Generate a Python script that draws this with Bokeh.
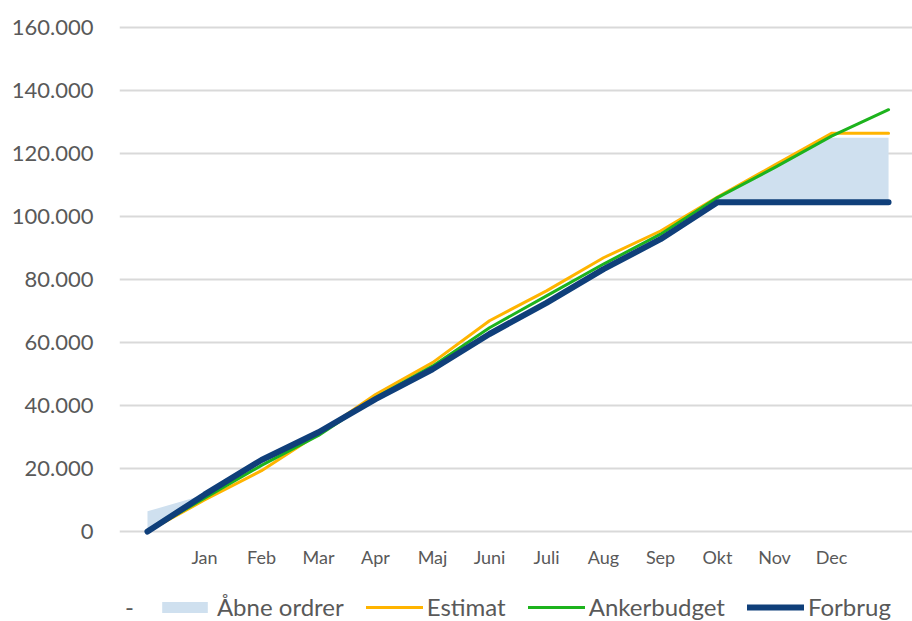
from bokeh.plotting import figure
from bokeh.embed import file_html
from bokeh.resources import INLINE
from bokeh.layouts import column
from bokeh.models import Range1d, FixedTicker, Legend, LegendItem
import numpy as np

# x positions: start point, Jan..Dec, end point
month_labels = ["", "Jan", "Feb", "Mar", "Apr", "Maj", "Juni", "Juli", "Aug", "Sep", "Okt", "Nov", "Dec", ""]
forbrug = [0, 11700, 22700, 31500, 42000, 51500, 62700, 72600, 83300, 92800, 104500, 104500, 104500, 104500]
estimat = [0, 10000, 19300, 31000, 43500, 53600, 66900, 76400, 86900, 95400, 106200, 116300, 126400, 126400]
ankerbudget = [0, 10600, 21000, 30500, 42500, 52500, 64700, 74800, 84900, 94400, 106000, 115500, 125500, 133900]
aabne_ordrer = [6400, 0, 0, 0, 0, 0, 0, 0, 0, 0, 1500, 11500, 20500, 20500]
y_ticks = [0, 20000, 40000, 60000, 80000, 100000, 120000, 140000, 160000]

x = list(range(len(month_labels)))
area_top = list(np.array(forbrug) + np.array(aabne_ordrer))

FONT = "Lato"
TXT = "#595959"
C_AREA = "#CFE0EF"
C_EST = "#FFB400"
C_ANK = "#1DB31D"
C_FOR = "#0F3F7A"

p = figure(width=912, height=580, output_backend="svg", toolbar_location=None,
           x_range=Range1d(-0.491, 13.42), y_range=Range1d(-2857, 162857),
           min_border_left=119, min_border_right=0, min_border_top=18, min_border_bottom=40)
p.outline_line_color = None
p.background_fill_color = "white"
p.frame_align = False

p.xgrid.visible = False
p.ygrid.ticker = FixedTicker(ticks=y_ticks)
p.ygrid.grid_line_color = "#D9D9D9"
p.ygrid.grid_line_width = 2

p.yaxis.ticker = FixedTicker(ticks=y_ticks)
p.yaxis.major_label_overrides = {t: f"{t:,}".replace(",", ".") for t in y_ticks}
p.yaxis.axis_line_color = None
p.yaxis.major_tick_line_color = None
p.yaxis.minor_tick_line_color = None
p.yaxis.major_tick_out = 0
p.yaxis.major_label_standoff = 26
p.yaxis.major_label_text_font = FONT
p.yaxis.major_label_text_font_size = "22px"
p.yaxis.major_label_text_color = TXT

p.xaxis.ticker = FixedTicker(ticks=x[1:13])
p.xaxis.major_label_overrides = {i: lab for i, lab in zip(x, month_labels)}
p.xaxis.axis_line_color = None
p.xaxis.major_tick_line_color = None
p.xaxis.minor_tick_line_color = None
p.xaxis.major_tick_out = 0
p.xaxis.major_label_standoff = 5
p.xaxis.major_label_text_font = FONT
p.xaxis.major_label_text_font_size = "18px"
p.xaxis.major_label_text_color = TXT

p.varea(x=x, y1=forbrug, y2=area_top, fill_color=C_AREA)
p.line(x, estimat, line_color=C_EST, line_width=3, line_cap="round", line_join="round")
p.line(x, ankerbudget, line_color=C_ANK, line_width=3, line_cap="round", line_join="round")
p.line(x, forbrug, line_color=C_FOR, line_width=6, line_cap="round", line_join="round")

# legend strip (proxy renderers are hidden; only their legend entries are shown)
q = figure(width=912, height=41, output_backend="svg", toolbar_location=None,
           x_range=Range1d(0, 1), y_range=Range1d(0, 1), x_axis_type=None, y_axis_type=None,
           min_border=0)
q.outline_line_color = None
q.grid.visible = False
q.frame_align = False
l_dash = q.line(x, forbrug, line_alpha=0, visible=False)
l_area = q.varea(x=x, y1=forbrug, y2=area_top, fill_color=C_AREA, visible=False)
l_est = q.line(x, estimat, line_color=C_EST, line_width=3, line_cap="round", visible=False)
l_ank = q.line(x, ankerbudget, line_color=C_ANK, line_width=3, line_cap="round", visible=False)
l_for = q.line(x, forbrug, line_color=C_FOR, line_width=6, line_cap="round", visible=False)

legend = Legend(items=[
    LegendItem(label="-", renderers=[l_dash]),
    LegendItem(label="Åbne ordrer", renderers=[l_area]),
    LegendItem(label="Estimat", renderers=[l_est]),
    LegendItem(label="Ankerbudget", renderers=[l_ank]),
    LegendItem(label="Forbrug", renderers=[l_for]),
], orientation="horizontal", location=(64, 0))
legend.label_text_font = FONT
legend.label_text_font_size = "24px"
legend.label_text_color = TXT
legend.label_width = 6
legend.glyph_width = 57
legend.glyph_height = 14
legend.label_standoff = 4
legend.spacing = 22
legend.padding = 0
legend.margin = 0
legend.border_line_color = None
legend.background_fill_alpha = 0
legend.inactive_fill_alpha = 0
q.add_layout(legend, "center")

layout = column(p, q, spacing=0)
open("out.html", "w").write(file_html(layout, INLINE))
